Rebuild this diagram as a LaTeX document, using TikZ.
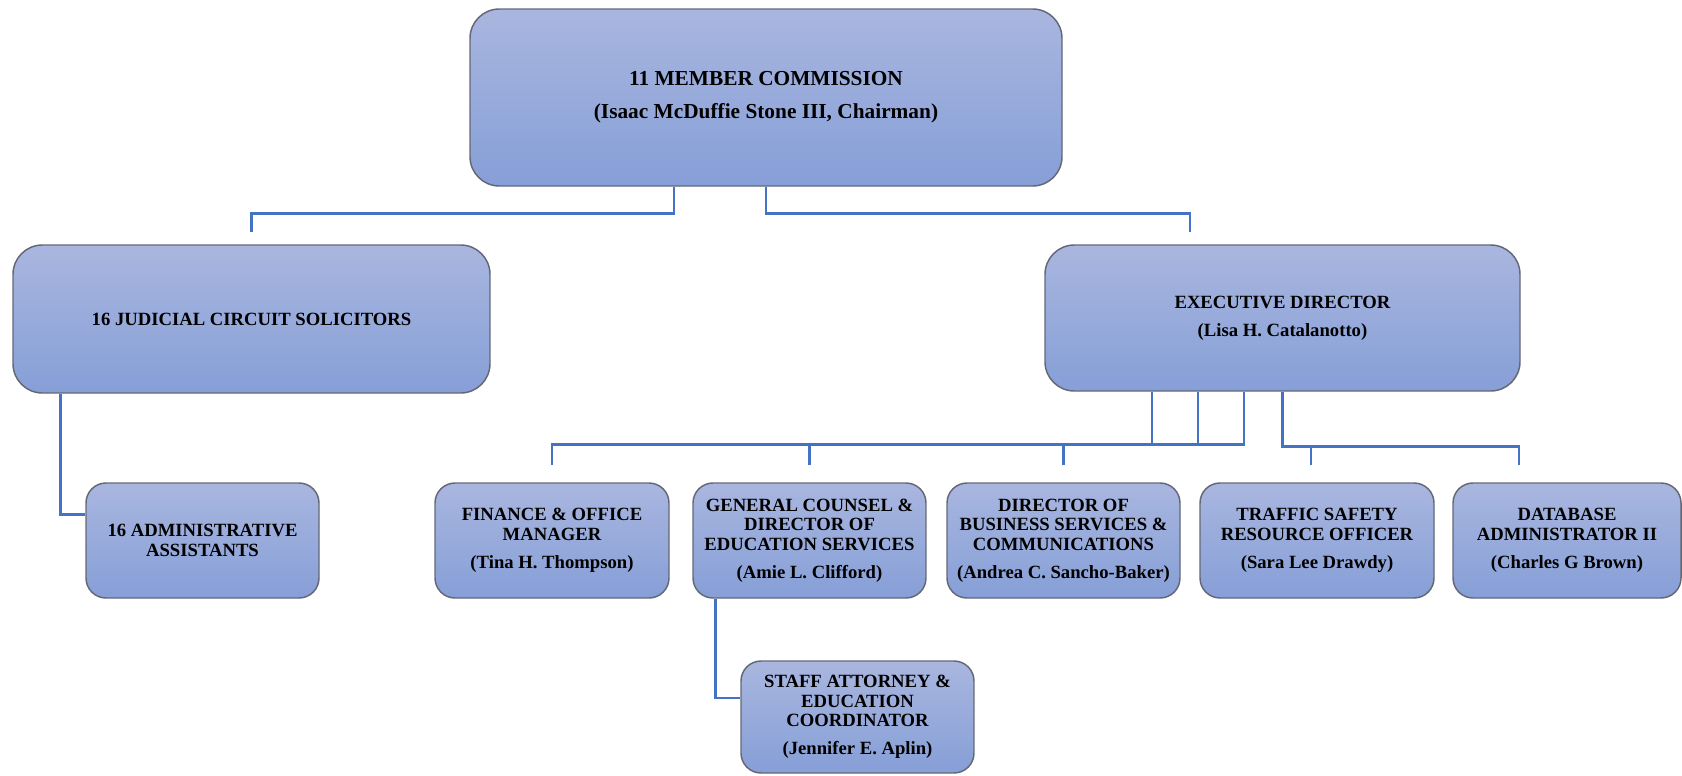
\documentclass[tikz,border=0pt]{standalone}
\usepackage{fontspec}
\setmainfont{Liberation Serif}
\definecolor{boxtop}{RGB}{169,182,223}
\definecolor{boxbot}{RGB}{134,159,215}
\definecolor{boxline}{RGB}{100,104,118}
\definecolor{linkblue}{RGB}{68,114,196}
\begin{document}
\begin{tikzpicture}[x=0.75pt,y=-0.75pt,
  box/.style={draw=boxline, line width=1.1pt, top color=boxtop, bottom color=boxbot,
    align=center, inner sep=2pt, rounded corners=15pt,
    font=\bfseries\fontsize{14}{14.6}\selectfont},
  bigbox/.style={box, rounded corners=22pt},
  sz/.style 2 args={minimum width=#1*0.75pt, minimum height=#2*0.75pt},
  link/.style={draw=linkblue, line width=2.1pt}]
\useasboundingbox (0,0) rectangle (1682,775);

\node[bigbox, sz={592}{177}, font=\bfseries\fontsize{16}{17}\selectfont] (top) at (766,97.5)
  {11 MEMBER COMMISSION\\[8pt](Isaac McDuffie Stone III, Chairman)};
\node[bigbox, sz={477}{148}] (jud) at (251.5,319) {16 JUDICIAL CIRCUIT SOLICITORS};
\node[bigbox, sz={475}{146}] (exec) at (1282.5,318)
  {EXECUTIVE DIRECTOR\\[6.5pt](Lisa H. Catalanotto)};
\node[box, sz={233}{115}] (admin) at (202.5,540.5) {16 ADMINISTRATIVE\\ASSISTANTS};
\node[box, sz={234}{115}] (fin) at (552,540.5)
  {FINANCE \& OFFICE\\MANAGER\\[6.5pt](Tina H. Thompson)};
\node[box, sz={233}{115}] (gc) at (809.5,540.5)
  {GENERAL COUNSEL \&\\DIRECTOR OF\\EDUCATION SERVICES\\[6.5pt](Amie L. Clifford)};
\node[box, sz={233}{115}] (dbs) at (1063.5,540.5)
  {DIRECTOR OF\\BUSINESS SERVICES \&\\COMMUNICATIONS\\[6.5pt](Andrea C. Sancho-Baker)};
\node[box, sz={234}{115}] (tso) at (1317,540.5)
  {TRAFFIC SAFETY\\RESOURCE OFFICER\\[6.5pt](Sara Lee Drawdy)};
\node[box, sz={228}{115}] (db) at (1567,540.5)
  {DATABASE\\ADMINISTRATOR II\\[6.5pt](Charles G Brown)};
\node[box, sz={233}{112}] (staff) at (857.5,717)
  {STAFF ATTORNEY \&\\EDUCATION\\COORDINATOR\\[6.5pt](Jennifer E. Aplin)};

% top to second level
\draw[link] ([xshift=-69pt]top.south) -- ++(0,27) -| ([yshift=9pt]jud.north);
\draw[link] (top.south) -- ++(0,27) -| ([xshift=-69.4pt,yshift=9pt]exec.north);
% judicial to admin
\draw[link] ([xshift=36pt]jud.south west) |- ([yshift=19.5pt]admin.west);
% executive to left group
\draw[link] ([xshift=-28.9pt]exec.south) -- ++(0,53) coordinate (hubL) -| ([yshift=12.75pt]fin.north);
\draw[link] ([xshift=-97.9pt]exec.south) -- ++(0,53);
\draw[link] ([xshift=-63.4pt]exec.south) -- ++(0,53);
\draw[link] ([yshift=12.75pt]gc.north) -- (gc.north |- hubL);
\draw[link] ([yshift=12.75pt]dbs.north) -- (dbs.north |- hubL);
% executive to right group
\draw[link] (exec.south) -- ++(0,55) coordinate (hubR) -| ([xshift=-36pt,yshift=12.75pt]db.north);
\draw[link] ([xshift=-4.5pt,yshift=12.75pt]tso.north) -- ++(0,-20);
% general counsel to staff attorney
\draw[link] ([xshift=17.25pt]gc.south west) |- ([yshift=14.25pt]staff.west);
\end{tikzpicture}
\end{document}
